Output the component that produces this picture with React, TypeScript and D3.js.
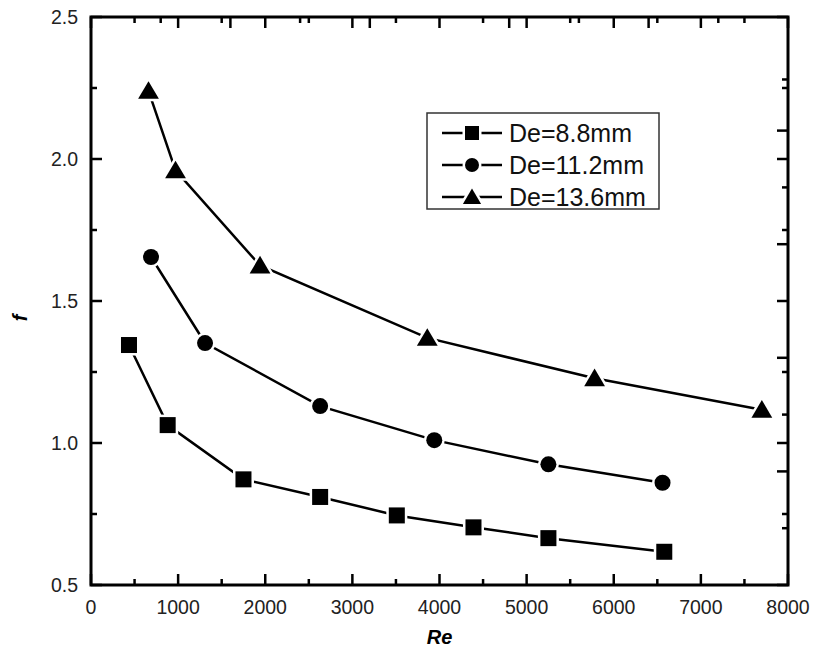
import React from "react";
import * as d3 from "d3";

// ---- data ----
const seriesNames = ["De=8.8mm", "De=11.2mm", "De=13.6mm"];
const squareRe = [436, 880, 1750, 2630, 3510, 4390, 5250, 6580];
const squareF = [1.345, 1.063, 0.872, 0.81, 0.745, 0.703, 0.665, 0.617];
const circleRe = [689, 1309, 2630, 3940, 5250, 6560];
const circleF = [1.655, 1.352, 1.13, 1.01, 0.925, 0.86];
const triangleRe = [660, 970, 1940, 3860, 5780, 7700];
const triangleF = [2.24, 1.96, 1.625, 1.37, 1.228, 1.117];

const xMajorTicks = [0, 1000, 2000, 3000, 4000, 5000, 6000, 7000, 8000];
const xMinorTicks = [500, 1500, 2500, 3500, 4500, 5500, 6500, 7500];
const topExtraMajor = [1600, 3200, 4800, 6400];
const topExtraMinor = [800, 2400, 5600, 7200];
const yMajorTicks = [0.5, 1.0, 1.5, 2.0, 2.5];
const yMinorTicks = [0.75, 1.25, 1.75, 2.25];
const rightExtraMajor = [0.9, 1.3, 1.7, 2.1];
const rightExtraMinor = [0.7, 1.1, 1.9, 2.28];
const xLabel = "Re";
const yLabel = "f";

const W = 815, H = 647;
const L = 91, R = 788, T = 17, B = 585;
const FONT = "'Liberation Sans', Arial, Helvetica, sans-serif";

const x = d3.scaleLinear().domain([0, 8000]).range([L, R]);
const y = d3.scaleLinear().domain([0.5, 2.5]).range([B, T]);

type Shape = "square" | "circle" | "triangle";

function Marker({ cx, cy, shape, size }: { cx: number; cy: number; shape: Shape; size: number }) {
  const common = { fill: "#000", stroke: "#fff", strokeWidth: 5, paintOrder: "stroke" as any };
  if (shape === "square") {
    return <rect x={cx - size / 2} y={cy - size / 2} width={size} height={size} {...common} />;
  }
  if (shape === "circle") {
    return <circle cx={cx} cy={cy} r={size / 2} {...common} />;
  }
  const w = size * 1.3, h = size * 1.1;
  const pts = `${cx - w / 2},${cy + h * 0.45} ${cx + w / 2},${cy + h * 0.45} ${cx},${cy - h * 0.55}`;
  return <polygon points={pts} {...common} />;
}

export default function App() {
  const series: { re: number[]; f: number[]; shape: Shape }[] = [
    { re: squareRe, f: squareF, shape: "square" },
    { re: circleRe, f: circleF, shape: "circle" },
    { re: triangleRe, f: triangleF, shape: "triangle" },
  ];
  const line = d3.line<[number, number]>().x((d) => x(d[0])).y((d) => y(d[1]));
  const MAJ = 11, MIN = 6;
  const legendRows = [133, 165, 197];

  return (
    <svg width={W} height={H} style={{ position: "absolute", left: 0, top: 0, background: "#fff" }} fontFamily={FONT}>
      <rect x={0} y={0} width={W} height={H} fill="#fff" />
      {series.map((s, i) => (
        <path key={"l" + i} d={line(s.re.map((r, j) => [r, s.f[j]]) as [number, number][]) || ""} fill="none" stroke="#000" strokeWidth={2.5} />
      ))}
      {series.map((s, i) =>
        s.re.map((r, j) => <Marker key={"m" + i + "-" + j} cx={x(r)} cy={y(s.f[j])} shape={s.shape} size={16} />)
      )}
      <g stroke="#000" strokeWidth={2.5}>
        {xMajorTicks.map((t) => <line key={"bx" + t} x1={x(t)} x2={x(t)} y1={B} y2={B - MAJ} />)}
        {xMinorTicks.map((t) => <line key={"bn" + t} x1={x(t)} x2={x(t)} y1={B} y2={B - MIN} />)}
        {xMajorTicks.concat(topExtraMajor).map((t) => <line key={"tx" + t} x1={x(t)} x2={x(t)} y1={T} y2={T + MAJ} />)}
        {xMinorTicks.concat(topExtraMinor).map((t) => <line key={"tn" + t} x1={x(t)} x2={x(t)} y1={T} y2={T + MIN} />)}
        {yMajorTicks.map((t) => <line key={"ly" + t} x1={L} x2={L + MAJ} y1={y(t)} y2={y(t)} />)}
        {yMinorTicks.map((t) => <line key={"ln" + t} x1={L} x2={L + MIN} y1={y(t)} y2={y(t)} />)}
        {yMajorTicks.concat(rightExtraMajor).map((t) => <line key={"ry" + t} x1={R} x2={R - MAJ} y1={y(t)} y2={y(t)} />)}
        {yMinorTicks.concat(rightExtraMinor).map((t) => <line key={"rn" + t} x1={R} x2={R - MIN} y1={y(t)} y2={y(t)} />)}
      </g>
      <rect x={L} y={T} width={R - L} height={B - T} fill="none" stroke="#000" strokeWidth={3} />
      {xMajorTicks.map((t) => (
        <text key={"xl" + t} x={x(t)} y={B + 29} textAnchor="middle" fontSize={19.5} fill="#222">{t}</text>
      ))}
      {yMajorTicks.map((t) => (
        <text key={"yl" + t} x={L - 13} y={y(t) + 7} textAnchor="end" fontSize={19.5} fill="#222">{t.toFixed(1)}</text>
      ))}
      <text x={(L + R) / 2} y={644} textAnchor="middle" fontSize={20} fontWeight="bold" fontStyle="italic">{xLabel}</text>
      <text transform={`translate(27,318) rotate(-90)`} textAnchor="middle" fontSize={20} fontWeight="bold" fontStyle="italic">{yLabel}</text>
      <rect x={427} y={113} width={232} height={96} fill="#fff" stroke="#333" strokeWidth={1.5} />
      {series.map((s, i) => (
        <g key={"lg" + i}>
          <line x1={442} x2={502} y1={legendRows[i]} y2={legendRows[i]} stroke="#000" strokeWidth={2.5} />
          <Marker cx={472} cy={legendRows[i]} shape={s.shape} size={14} />
          <text x={509} y={legendRows[i] + 8.5} fontSize={25} fill="#111">{seriesNames[i]}</text>
        </g>
      ))}
    </svg>
  );
}
